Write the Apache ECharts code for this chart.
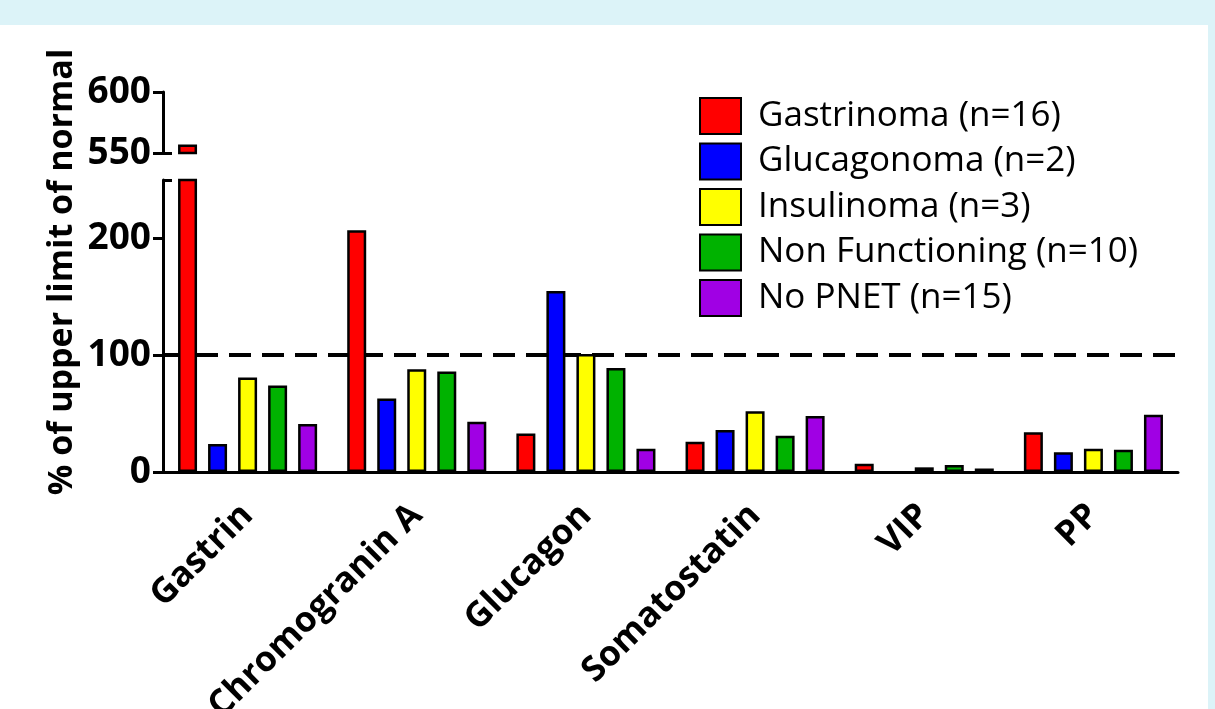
<!DOCTYPE html>
<html><head><meta charset="utf-8">
<script src="https://cdn.jsdelivr.net/npm/echarts@6/dist/echarts.min.js"></script>
<style>html,body{margin:0;padding:0;background:#fff}#c{width:1215px;height:709px}</style>
</head><body><div id="c"></div>
<script>
const categories = ['Gastrin', 'Chromogranin A', 'Glucagon', 'Somatostatin', 'VIP', 'PP'];
const seriesNames = ['Gastrinoma (n=16)', 'Glucagonoma (n=2)', 'Insulinoma (n=3)', 'Non Functioning (n=10)', 'No PNET (n=15)'];
const gastrinoma = [557, 207, 33, 26, 7, 34];
const glucagonoma = [24, 63, 155, 36, null, 17];
const insulinoma = [81, 88, 101, 52, 4, 20];
const nonFunctioning = [74, 86, 89, 31, 6, 19];
const noPnet = [41, 43, 20, 48, 3, 49];
const lowerTicks = [0, 100, 200];
const upperTicks = [550, 600];
const referenceLine = 100;

const colors = ['#ff0000', '#0000ff', '#ffff00', '#00b200', '#a000e4'];
const allData = [gastrinoma, glucagonoma, insulinoma, nonFunctioning, noPnet];
const FONT = '"Open Sans", "Liberation Sans", sans-serif';
const lowerMax = 250, upperMin = upperTicks[0], upperMax = upperTicks[upperTicks.length - 1];

const series = [];
allData.forEach((d, i) => {
  const s = {
    name: seriesNames[i], type: 'bar', xAxisIndex: 0, yAxisIndex: 0,
    data: d, barWidth: 19, barGap: '58%', clip: true, z: 3,
    itemStyle: { color: colors[i], borderColor: '#000', borderWidth: 2.5 },
    emphasis: { disabled: true }, animation: false
  };
  if (i === 0) {
    s.markLine = {
      silent: true, symbol: 'none', label: { show: false }, z: 1,
      lineStyle: { color: '#000', type: [22, 11], width: 4 },
      data: [{ yAxis: referenceLine }], animation: false
    };
  }
  series.push(s);
  series.push({
    name: seriesNames[i], type: 'bar', xAxisIndex: 1, yAxisIndex: 1,
    data: d.map(v => (v != null && v > upperMin) ? v : null),
    barWidth: 19, barGap: '58%', clip: true,
    itemStyle: { color: colors[i], borderColor: '#000', borderWidth: 2.5 },
    emphasis: { disabled: true }, animation: false
  });
});

const axisLineStyle = { color: '#000', width: 3 };
const option = {
  animation: false,
  backgroundColor: '#fff',
  grid: [
    { left: 163, width: 1015, top: 180, height: 292, containLabel: false, outerBoundsMode: 'none' },
    { left: 163, width: 1015, top: 92, height: 61, containLabel: false, outerBoundsMode: 'none' }
  ],
  xAxis: [
    {
      type: 'category', gridIndex: 0, data: categories,
      axisLine: { lineStyle: axisLineStyle },
      axisTick: { alignWithLabel: true, length: 9, lineStyle: { width: 3, color: '#000' } },
      axisLabel: { rotate: 45, fontSize: 35, fontWeight: 'bold', color: '#000', fontFamily: FONT, margin: 38, interval: 0 }
    },
    { type: 'category', gridIndex: 1, data: categories, show: false }
  ],
  yAxis: [
    {
      type: 'value', gridIndex: 0, min: 0, max: lowerMax, interval: 100,
      splitLine: { show: false },
      axisLine: { show: true, lineStyle: axisLineStyle },
      axisTick: { show: true, length: 10, lineStyle: { width: 3, color: '#000' } },
      axisLabel: { showMaxLabel: false, fontSize: 37, fontWeight: 'bold', color: '#000', fontFamily: FONT, margin: 12,
        formatter: v => lowerTicks.includes(v) ? String(v) : '' }
    },
    {
      type: 'value', gridIndex: 1, min: upperMin, max: upperMax, interval: 50,
      splitLine: { show: false },
      axisLine: { show: true, lineStyle: axisLineStyle },
      axisTick: { show: true, length: 10, lineStyle: { width: 3, color: '#000' } },
      axisLabel: { fontSize: 37, fontWeight: 'bold', color: '#000', fontFamily: FONT, margin: 12 }
    }
  ],
  legend: {
    orient: 'vertical', left: 694, top: 92,
    data: seriesNames, icon: 'rect',
    itemWidth: 41, itemHeight: 36, itemGap: 7.5,
    textStyle: { fontSize: 35, color: '#000', fontFamily: FONT, padding: [0, 0, 0, 12] },
    selectedMode: false
  },
  graphic: [
    { type: 'rect', shape: { x: 0, y: 0, width: 1215, height: 25 }, style: { fill: '#dcf3f8' }, z: 10 },
    { type: 'rect', shape: { x: 1208, y: 0, width: 7, height: 709 }, style: { fill: '#dcf3f8' }, z: 10 },
    { type: 'line', shape: { x1: 163, y1: 180.5, x2: 172, y2: 180.5 }, style: { stroke: '#000', lineWidth: 3 }, z: 10 },
    { type: 'line', shape: { x1: 163, y1: 153.5, x2: 172, y2: 153.5 }, style: { stroke: '#000', lineWidth: 3 }, z: 10 },
    { type: 'text', x: 62, y: 272, rotation: Math.PI / 2,
      style: { text: '% of upper limit of normal', font: 'bold 34px ' + FONT, fill: '#000', textAlign: 'center', textVerticalAlign: 'middle' }, z: 10 }
  ],
  series: series
};
const chart = echarts.init(document.getElementById('c'), null, { renderer: 'canvas' });
chart.setOption(option);
</script></body></html>
